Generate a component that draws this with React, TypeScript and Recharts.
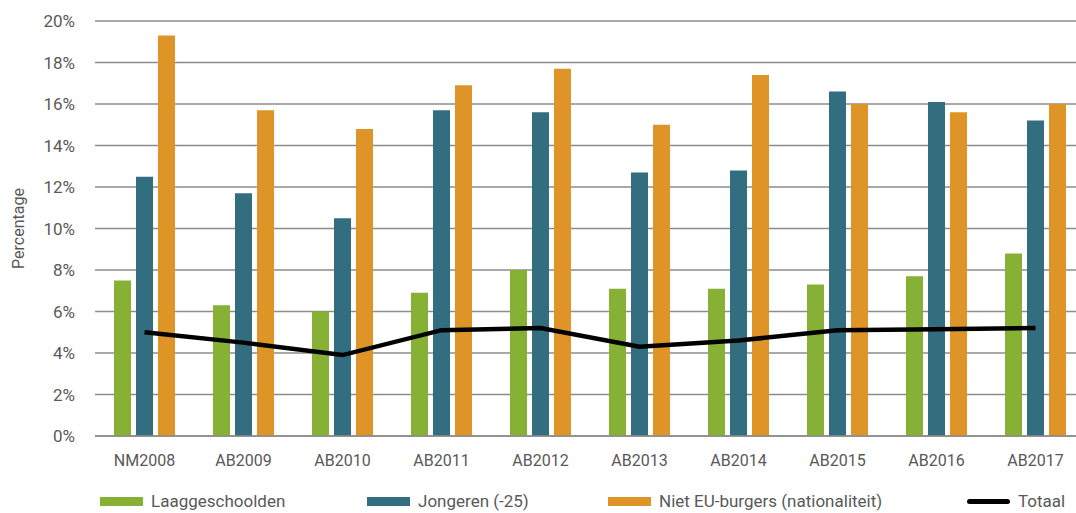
import {
  ComposedChart,
  Bar,
  Line,
  XAxis,
  YAxis,
  CartesianGrid,
  Legend,
} from "recharts";

const categories = [
  "NM2008",
  "AB2009",
  "AB2010",
  "AB2011",
  "AB2012",
  "AB2013",
  "AB2014",
  "AB2015",
  "AB2016",
  "AB2017",
];
const laaggeschoolden = [7.5, 6.3, 6.0, 6.9, 8.0, 7.1, 7.1, 7.3, 7.7, 8.8];
const jongeren = [12.5, 11.7, 10.5, 15.7, 15.6, 12.7, 12.8, 16.6, 16.1, 15.2];
const nietEu = [19.3, 15.7, 14.8, 16.9, 17.7, 15.0, 17.4, 16.0, 15.6, 16.0];
const totaal = [5.0, 4.5, 3.9, 5.1, 5.2, 4.3, 4.6, 5.1, 5.15, 5.2];
const yTicks = [0, 2, 4, 6, 8, 10, 12, 14, 16, 18, 20];
const seriesNames = [
  "Laaggeschoolden",
  "Jongeren (-25)",
  "Niet EU-burgers (nationaliteit)",
  "Totaal",
];

const FONT = '"Roboto", sans-serif';
const TEXT = "#595959";

// build chart rows from the arrays above
const data = categories.map((name, i) => ({
  name,
  laag: laaggeschoolden[i],
  jong: jongeren[i],
  eu: nietEu[i],
  tot: totaal[i],
}));

// fixed x positions of the legend entries (as in the original)
const legendX = [100, 367, 608, 967];

function CustomLegend({ payload }: any) {
  const items = [...(payload || [])].sort(
    (a: any, b: any) => seriesNames.indexOf(a.value) - seriesNames.indexOf(b.value)
  );
  return (
    <div style={{ position: "relative", height: 24, fontFamily: FONT }}>
      {items.map((p: any, i: number) => (
        <div
          key={p.value}
          style={{
            position: "absolute",
            left: legendX[i],
            top: 0,
            display: "flex",
            alignItems: "center",
            fontSize: 17,
            color: TEXT,
            whiteSpace: "nowrap",
          }}
        >
          <span
            style={{
              display: "inline-block",
              width: 43,
              height: p.type === "line" ? 5 : 9,
              borderRadius: p.type === "line" ? 3 : 0,
              background: p.color,
              marginRight: 8,
            }}
          />
          {p.value}
        </div>
      ))}
    </div>
  );
}

export default function App() {
  return (
    <div style={{ position: "absolute", left: 0, top: 0, background: "#fff" }}>
      <ComposedChart
        width={1095}
        height={513}
        data={data}
        margin={{ top: 21, right: 10, left: 0, bottom: 3 }}
        barSize={17}
        barGap={5}
      >
        <CartesianGrid vertical={false} stroke="#8c8c8c" strokeWidth={1.5} />
        <XAxis
          dataKey="name"
          axisLine={{ stroke: "#8c8c8c", strokeWidth: 1.5 }}
          tickLine={false}
          tick={{ fill: TEXT, fontSize: 16, fontFamily: FONT }}
          tickMargin={13}
          height={50}
          interval={0}
        />
        <YAxis
          domain={[0, 20]}
          ticks={yTicks}
          width={95}
          axisLine={false}
          tickLine={false}
          tickFormatter={(v) => `${v}%`}
          tick={{ fill: TEXT, fontSize: 17, fontFamily: FONT }}
          tickMargin={14}
          label={{
            value: "Percentage",
            angle: -90,
            position: "insideLeft",
            offset: 18,
            style: {
              fill: TEXT,
              fontSize: 16,
              fontFamily: FONT,
              textAnchor: "middle",
            },
          }}
        />
        <Legend
          verticalAlign="bottom"
          content={<CustomLegend />}
          wrapperStyle={{ left: 0, width: 1095, bottom: -2 }}
        />
        <Bar
          dataKey="laag"
          name="Laaggeschoolden"
          fill="#87b135"
          isAnimationActive={false}
        />
        <Bar
          dataKey="jong"
          name="Jongeren (-25)"
          fill="#336d80"
          isAnimationActive={false}
        />
        <Bar
          dataKey="eu"
          name="Niet EU-burgers (nationaliteit)"
          fill="#df9428"
          isAnimationActive={false}
        />
        <Line
          dataKey="tot"
          name="Totaal"
          type="linear"
          stroke="#000000"
          strokeWidth={4.5}
          dot={false}
          legendType="line"
          isAnimationActive={false}
        />
      </ComposedChart>
    </div>
  );
}
